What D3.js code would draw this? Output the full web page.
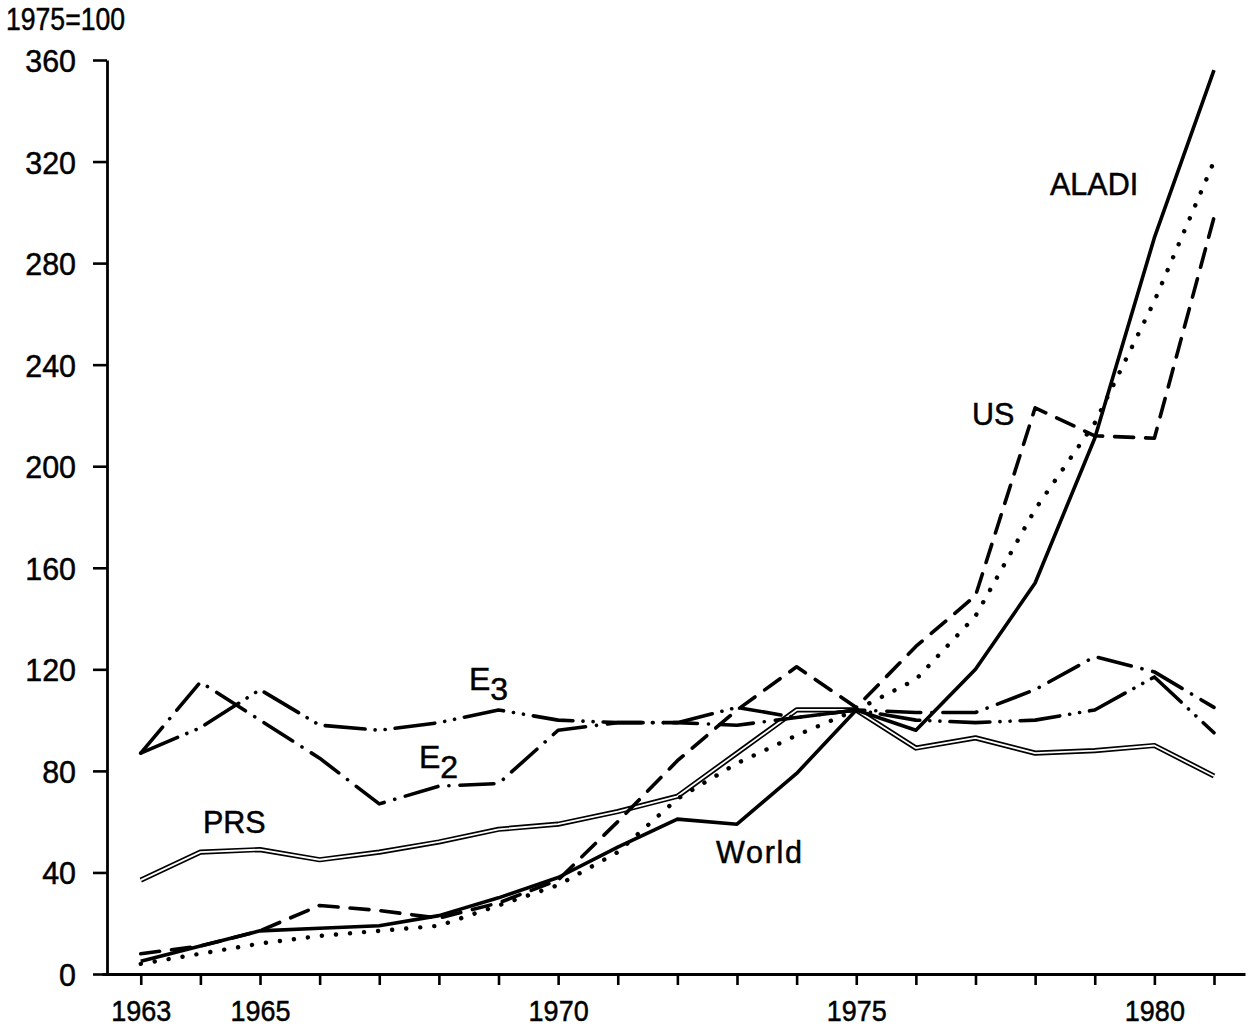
<!DOCTYPE html>
<html><head><meta charset="utf-8">
<script src="https://cdn.jsdelivr.net/npm/d3@7/dist/d3.min.js"></script>
<style>
body{margin:0;background:#fff}
text{font-family:"Liberation Sans",Arial,sans-serif;fill:#000;stroke:#000;stroke-width:0.5px}
</style>
</head><body>
<svg id="chart" width="1251" height="1030"></svg>
<script>
// ---- data (index 1975 = 100) ----
const years = [1963,1964,1965,1966,1967,1968,1969,1970,1971,1972,1973,1974,1975,1976,1977,1978,1979,1980,1981];
const aladi = [5,11,17,18,19,23,30,38,50,61,59,79,104,96,120,154,211,290,356];
const world = [4,8,12,15,17,19,27,35,48,69,83,94,104,116,141,183,217,265,320];
const us    = [8,11,17,27,25,22,28,37,60,84,104,121,105,129,149,223,212,211,298];
const e2    = [87,115,100,85,67,74,75,96,99,99,98,101,104,103,103,112,125,119,105];
const e3    = [87,97,112,98,96,99,104,100,99,99,105,101,104,100,99,100,104,117,95];
const prs   = [37,48,49,45,48,52,57,59,64,70,87,104,104,89,93,87,88,90,78];
const yTicks = [0,40,80,120,160,200,240,280,320,360];
const xLabelYears = [1963,1965,1970,1975,1980];
const unitLabel = "1975=100";
const xExtent = [1962.35, 1981.52];
const yExtent = [0, 360];

// ---- styles ----
const styles = {
  aladi: {dash:null, w:3.6},
  world: {dash:"0.1,14", w:4.4},
  us:    {dash:"19,12", w:3.6},
  e2:    {dash:"34,11,0.1,11", w:3.6},
  e3:    {dash:"40,10,0.1,10,0.1,10", w:3.6}
};

const svg = d3.select("#chart");
const x = d3.scaleLinear().domain(xExtent).range([102,1245]);
const y = d3.scaleLinear().domain(yExtent).range([974,60]);

function squeeze(sel, f){
  sel.each(function(){
    const L = this.getComputedTextLength();
    if (L > 0) d3.select(this).attr("textLength", L*f).attr("lengthAdjust","spacingAndGlyphs");
  });
}

// axes
const yAxis = d3.axisLeft(y).tickValues(yTicks).tickSize(14).tickSizeOuter(0).tickPadding(17);
const gy = svg.append("g").attr("transform","translate(107,0)").call(yAxis);
gy.selectAll("text").style("font-size","32px").attr("dy","0.36em");
squeeze(gy.selectAll("text"), 0.95);

const xAxis = d3.axisBottom(x).tickValues(years).tickSize(11).tickSizeOuter(0)
  .tickFormat(d => xLabelYears.includes(d) ? d : "");
const gx = svg.append("g").attr("transform","translate(0,974)").call(xAxis);
gx.selectAll("text").style("font-size","30px").attr("y",47).attr("dy",0);
squeeze(gx.selectAll("text"), 0.9);

svg.selectAll(".domain").attr("stroke","#000").attr("stroke-width",2.8);
svg.selectAll(".tick line").attr("stroke","#000").attr("stroke-width",2.6);

const unit = svg.append("text").attr("x",6).attr("y",30).style("font-size","31px").text(unitLabel);
unit.attr("textLength",119).attr("lengthAdjust","spacingAndGlyphs");

// lines
const line = d3.line().x((d,i)=>x(years[i])).y(d=>y(d));
const g = svg.append("g").attr("fill","none").attr("stroke","#000")
  .attr("stroke-linejoin","round");

// PRS double line
g.append("path").attr("d",line(prs)).attr("stroke-width",5.2);
g.append("path").attr("d",line(prs)).attr("stroke","#fff").attr("stroke-width",1.8);

const series = {aladi, world, us, e2, e3};
for (const k of Object.keys(series)) {
  const s = styles[k];
  const p = g.append("path").attr("d",line(series[k])).attr("stroke-width",s.w);
  if (s.dash) p.attr("stroke-dasharray",s.dash).attr("stroke-linecap","round");
}

// labels
const lab = svg.append("g").style("font-size","30.5px");
lab.append("text").attr("x",1050).attr("y",195).text("ALADI");
lab.append("text").attr("x",972).attr("y",425).text("US");
lab.append("text").attr("x",203).attr("y",833).text("PRS");
lab.append("text").attr("x",716).attr("y",863).attr("textLength",86).attr("lengthAdjust","spacing").text("World");
const t3 = lab.append("text").attr("x",469).attr("y",690).style("font-size","32px");
t3.append("tspan").text("E");
t3.append("tspan").attr("dy",10).text("3");
const t2 = lab.append("text").attr("x",419).attr("y",768).style("font-size","32px");
t2.append("tspan").text("E");
t2.append("tspan").attr("dy",10).text("2");
</script>
</body></html>
